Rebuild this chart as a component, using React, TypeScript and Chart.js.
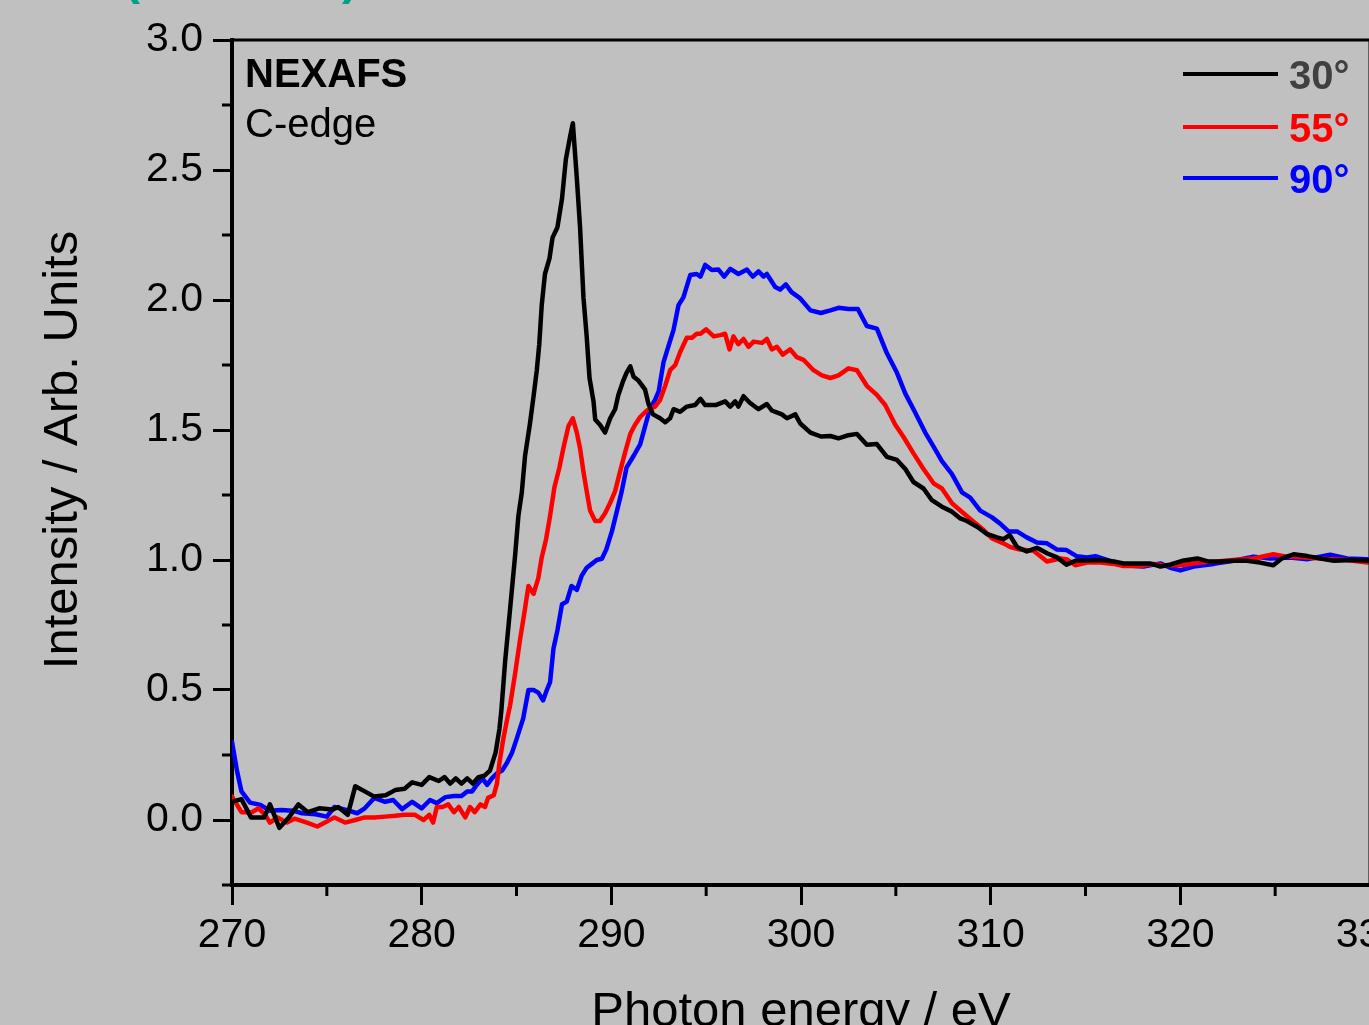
import React, { useEffect, useRef } from "react";
import { Chart, registerables } from "chart.js";

Chart.register(...registerables);

// ---------- data ----------
const energy30 = [270.0,270.5,271.0,271.7,272.0,272.5,273.0,273.5,274.0,274.6,275.3,275.6,276.1,276.5,277.0,277.5,278.1,278.6,279.1,279.5,280.0,280.4,280.9,281.2,281.5,281.8,282.1,282.4,282.7,283.0,283.3,283.6,283.9,284.1,284.2,284.4,284.66,284.93,285.1,285.28,285.45,285.7,285.9,286.07,286.2,286.33,286.5,286.74,286.9,287.16,287.4,287.6,287.83,287.97,288.18,288.35,288.53,288.7,288.85,289.06,289.15,289.4,289.67,289.94,290.2,290.37,290.63,290.8,291.0,291.17,291.43,291.78,291.96,292.2,292.57,292.84,293.1,293.28,293.63,293.98,294.42,294.7,294.95,295.5,296.0,296.27,296.53,296.7,296.97,297.3,297.76,298.2,298.46,298.99,299.26,299.7,299.96,300.5,301.05,301.55,301.98,302.5,302.95,303.47,304.0,304.53,305.06,305.5,305.93,306.46,306.9,307.43,307.96,308.4,308.75,309.28,309.8,310.33,310.68,311.0,311.39,311.9,312.44,312.97,313.5,314.0,314.5,315.1,315.8,316.5,317.0,317.7,318.4,318.95,319.5,320.1,320.9,321.5,322.1,322.8,323.5,324.2,324.9,325.35,325.97,326.7,327.4,328.1,329.0,329.9];
const intensity30 = [0.07,0.08,0.01,0.01,0.06,-0.03,0.01,0.06,0.03,0.045,0.04,0.05,0.02,0.13,0.11,0.09,0.095,0.115,0.12,0.145,0.135,0.165,0.15,0.165,0.14,0.16,0.14,0.16,0.14,0.165,0.17,0.19,0.26,0.35,0.42,0.61,0.81,1.02,1.17,1.26,1.40,1.52,1.63,1.73,1.83,1.98,2.10,2.16,2.24,2.28,2.39,2.54,2.63,2.68,2.47,2.28,2.01,1.86,1.70,1.61,1.54,1.52,1.49,1.545,1.58,1.635,1.69,1.72,1.745,1.705,1.69,1.655,1.60,1.56,1.545,1.53,1.545,1.58,1.57,1.59,1.596,1.62,1.596,1.596,1.61,1.59,1.61,1.59,1.63,1.605,1.58,1.60,1.575,1.56,1.545,1.56,1.525,1.49,1.475,1.477,1.468,1.48,1.485,1.443,1.446,1.397,1.385,1.35,1.30,1.275,1.23,1.205,1.186,1.16,1.15,1.128,1.10,1.087,1.08,1.096,1.05,1.033,1.047,1.026,1.01,0.982,0.998,0.998,1.0,0.994,0.987,0.987,0.987,0.975,0.983,0.997,1.006,0.994,0.994,0.997,0.997,0.99,0.98,1.006,1.022,1.015,1.006,0.997,1.0,0.997];

const energy55 = [270.0,270.5,271.05,271.4,271.75,272.0,272.4,272.9,273.3,273.95,274.5,274.9,275.4,275.96,276.5,277.0,277.5,278.07,278.6,279.1,279.65,280.1,280.4,280.6,280.8,281.1,281.4,281.7,281.96,282.3,282.55,282.8,283.1,283.34,283.5,283.8,283.97,284.1,284.3,284.5,284.66,284.93,285.2,285.4,285.63,285.9,286.15,286.33,286.56,286.77,287.0,287.26,287.47,287.74,287.97,288.18,288.35,288.53,288.7,288.88,289.15,289.4,289.67,289.94,290.2,290.46,290.73,291.0,291.25,291.52,291.87,292.3,292.57,292.84,293.1,293.37,293.63,293.98,294.25,294.5,294.7,295.0,295.4,295.74,296.0,296.23,296.44,296.7,296.97,297.23,297.5,297.94,298.2,298.46,298.73,299.04,299.43,299.78,300.13,300.66,301.1,301.55,301.98,302.5,302.95,303.47,304.0,304.44,304.97,305.4,305.93,306.46,306.99,307.43,307.96,308.57,309.1,309.63,310.07,310.68,311.03,311.55,312.26,312.97,313.67,314.0,314.46,315.08,315.78,316.48,317.0,317.9,318.6,319.1,320.0,321.05,321.93,322.8,323.86,324.9,325.6,326.68,327.9,328.8,329.85];
const intensity55 = [0.09,0.03,0.03,0.045,0.02,-0.01,0.01,-0.01,0.005,-0.01,-0.025,-0.01,0.01,-0.01,0.0,0.01,0.01,0.013,0.016,0.02,0.02,0.0,0.02,-0.01,0.05,0.05,0.06,0.03,0.05,0.01,0.05,0.03,0.06,0.05,0.085,0.095,0.14,0.22,0.31,0.385,0.44,0.565,0.70,0.79,0.90,0.87,0.93,1.01,1.08,1.17,1.28,1.355,1.43,1.515,1.545,1.49,1.43,1.34,1.265,1.19,1.15,1.15,1.18,1.22,1.265,1.34,1.415,1.485,1.52,1.55,1.575,1.59,1.615,1.67,1.73,1.75,1.80,1.855,1.855,1.87,1.87,1.887,1.86,1.865,1.87,1.81,1.86,1.83,1.85,1.82,1.84,1.835,1.85,1.81,1.82,1.79,1.81,1.78,1.77,1.73,1.71,1.70,1.71,1.737,1.73,1.67,1.635,1.596,1.52,1.474,1.41,1.35,1.295,1.275,1.218,1.18,1.147,1.115,1.083,1.064,1.05,1.04,1.036,0.994,1.006,1.003,0.98,0.99,0.99,0.985,0.977,0.977,0.985,0.98,0.98,0.99,0.994,1.0,1.006,1.022,1.013,1.01,1.003,1.0,0.99];

const energy90 = [270.0,270.26,270.5,270.95,271.5,272.0,272.6,273.2,273.7,274.4,275.0,275.4,276.07,276.6,277.0,277.5,278.07,278.5,278.97,279.5,280.0,280.44,280.8,281.25,281.7,282.1,282.4,282.66,282.9,283.2,283.45,283.7,283.98,284.24,284.5,284.77,285.0,285.35,285.63,285.9,286.15,286.4,286.6,286.77,286.95,287.16,287.4,287.65,287.9,288.18,288.44,288.7,288.97,289.23,289.5,289.73,290.03,290.3,290.55,290.8,291.17,291.52,291.8,292.05,292.3,292.5,292.75,293.0,293.28,293.54,293.8,294.16,294.5,294.7,294.95,295.3,295.65,295.95,296.27,296.7,297.15,297.46,297.76,298.03,298.2,298.64,298.9,299.2,299.5,299.96,300.5,301.05,301.55,301.98,302.5,303.0,303.47,304.0,304.53,305.06,305.5,306.0,306.55,306.99,307.43,307.96,308.49,308.92,309.45,310.07,310.5,310.94,311.39,311.9,312.44,312.97,313.5,314.0,314.55,315.08,315.52,316.13,317.0,318.06,318.95,319.47,320.0,320.7,321.76,322.8,323.86,324.74,325.8,326.68,327.9,328.8,329.85];
const intensity90 = [0.30,0.19,0.11,0.067,0.058,0.036,0.038,0.036,0.026,0.022,0.013,0.05,0.038,0.026,0.045,0.085,0.07,0.077,0.042,0.07,0.045,0.077,0.065,0.088,0.092,0.092,0.11,0.11,0.135,0.16,0.135,0.16,0.18,0.19,0.22,0.26,0.31,0.39,0.50,0.50,0.49,0.46,0.50,0.53,0.66,0.73,0.83,0.84,0.90,0.885,0.94,0.97,0.985,1.0,1.005,1.04,1.11,1.19,1.265,1.355,1.40,1.445,1.52,1.585,1.615,1.65,1.76,1.82,1.885,1.98,2.01,2.096,2.10,2.09,2.135,2.115,2.117,2.09,2.12,2.10,2.117,2.09,2.11,2.09,2.10,2.05,2.04,2.06,2.03,2.006,1.96,1.95,1.96,1.97,1.965,1.965,1.90,1.89,1.795,1.72,1.64,1.57,1.49,1.436,1.38,1.33,1.26,1.24,1.19,1.164,1.14,1.11,1.11,1.087,1.067,1.064,1.04,1.038,1.014,1.01,1.015,1.0,0.98,0.975,0.987,0.97,0.96,0.975,0.985,0.997,1.013,1.006,1.01,1.003,1.02,1.006,1.003];

const seriesLabels = ["30°", "55°", "90°"];
const xMajorTicks = [270, 280, 290, 300, 310, 320, 330];
const xMinorTicks = [275, 285, 295, 305, 315, 325];
const yMajorTicks = [0.0, 0.5, 1.0, 1.5, 2.0, 2.5, 3.0];
const yMinorTicks = [-0.25, 0.25, 0.75, 1.25, 1.75, 2.25, 2.75];
const xTitle = "Photon energy / eV";
const yTitle = "Intensity / Arb. Units";
const annotTitle = "NEXAFS";
const annotSub = "C-edge";

// ---------- styling ----------
const W = 1420;
const H = 1060;
const BG = "#c0c0c0";
const FONT = "'Liberation Sans', Arial, Helvetica, sans-serif";
const lineColors = ["#000000", "#ff0000", "#0000ff"];
const labelColors = ["#404040", "#ff0000", "#0000ff"];

const overlayPlugin = {
  id: "overlay",
  afterDraw(chart: any) {
    const ctx = chart.ctx as CanvasRenderingContext2D;
    const xs = chart.scales.x;
    const ys = chart.scales.y;
    const { left, right, top, bottom } = chart.chartArea;
    ctx.save();
    ctx.strokeStyle = "#000";
    const seg = (x1: number, y1: number, x2: number, y2: number) => {
      ctx.beginPath();
      ctx.moveTo(x1, y1);
      ctx.lineTo(x2, y2);
      ctx.stroke();
    };
    // minor ticks
    ctx.lineWidth = 3;
    for (const v of xMinorTicks) {
      const px = xs.getPixelForValue(v);
      seg(px, bottom, px, bottom + 11);
    }
    for (const v of yMinorTicks) {
      const py = ys.getPixelForValue(v);
      seg(left - 10, py, left, py);
    }
    // frame
    ctx.lineWidth = 3;
    seg(left, top, right + 2, top);
    seg(right, top, right, bottom);

    // axis titles
    ctx.fillStyle = "#000";
    ctx.font = `49px ${FONT}`;
    ctx.textAlign = "center";
    ctx.textBaseline = "alphabetic";
    ctx.fillText(xTitle, (left + right) / 2, 1026);
    ctx.save();
    ctx.translate(77, 450);
    ctx.rotate(-Math.PI / 2);
    ctx.fillText(yTitle, 0, 0);
    ctx.restore();

    // annotation
    ctx.textAlign = "left";
    ctx.font = `bold 40px ${FONT}`;
    ctx.fillText(annotTitle, 245, 87);
    ctx.font = `40px ${FONT}`;
    ctx.fillText(annotSub, 245, 137);

    // legend
    const rowsY = [74, 127, 178];
    for (let i = 0; i < seriesLabels.length; i++) {
      ctx.strokeStyle = lineColors[i];
      ctx.lineWidth = 4;
      seg(1183, rowsY[i], 1278, rowsY[i]);
      ctx.fillStyle = labelColors[i];
      ctx.font = `bold 40px ${FONT}`;
      ctx.fillText(seriesLabels[i], 1289, rowsY[i] + 15);
    }

    // cut-off teal brackets at the very top
    ctx.fillStyle = "#00a08a";
    ctx.font = `bold 48px ${FONT}`;
    ctx.fillText("(", 124, -6);
    ctx.fillText(")", 342, -6);
    ctx.restore();
  },
};

export default function App() {
  const ref = useRef<HTMLCanvasElement | null>(null);

  useEffect(() => {
    document.body.style.margin = "0";
    document.body.style.background = BG;
    document.body.style.overflow = "hidden";
    const canvas = ref.current;
    if (!canvas) return;
    Chart.defaults.font.family = FONT;
    const mk = (xs: number[], ys: number[]) => xs.map((x, i) => ({ x, y: ys[i] }));
    const chart = new Chart(canvas, {
      type: "line",
      data: {
        datasets: [
          { label: seriesLabels[0], data: mk(energy30, intensity30), borderColor: lineColors[0] },
          { label: seriesLabels[1], data: mk(energy55, intensity55), borderColor: lineColors[1] },
          { label: seriesLabels[2], data: mk(energy90, intensity90), borderColor: lineColors[2] },
        ].map((d) => ({
          ...d,
          borderWidth: 4.5,
          borderJoinStyle: "round",
          borderCapStyle: "round",
          pointRadius: 0,
          tension: 0,
          fill: false,
        })),
      },
      options: {
        animation: false,
        responsive: false,
        devicePixelRatio: 1,
        layout: { padding: { top: 40, right: 50, left: 0, bottom: 0 } },
        plugins: { legend: { display: false }, tooltip: { enabled: false } },
        scales: {
          x: {
            type: "linear",
            min: 270,
            max: 330,
            afterBuildTicks: (s: any) => {
              s.ticks = xMajorTicks.map((v) => ({ value: v }));
            },
            afterFit: (s: any) => {
              s.height = H - 885;
            },
            ticks: {
              color: "#000",
              font: { size: 41 },
              padding: 6,
              maxRotation: 0,
              autoSkip: false,
              callback: (v: any) => String(v),
            },
            grid: {
              display: true,
              drawOnChartArea: false,
              drawTicks: true,
              tickLength: 20,
              tickWidth: 3,
              tickColor: "#000",
            },
            border: { display: true, color: "#000", width: 4 },
          },
          y: {
            type: "linear",
            min: -0.25,
            max: 3.0,
            afterBuildTicks: (s: any) => {
              s.ticks = yMajorTicks.map((v) => ({ value: v }));
            },
            afterFit: (s: any) => {
              s.width = 232;
            },
            ticks: {
              color: "#000",
              font: { size: 41 },
              padding: 10,
              autoSkip: false,
              callback: (v: any) => Number(v).toFixed(1),
            },
            grid: {
              display: true,
              drawOnChartArea: false,
              drawTicks: true,
              tickLength: 19,
              tickWidth: 3,
              tickColor: "#000",
            },
            border: { display: true, color: "#000", width: 4 },
          },
        },
      },
      plugins: [overlayPlugin],
    } as any);
    return () => chart.destroy();
  }, []);

  return (
    <div style={{ position: "fixed", left: 0, top: 0, width: W, height: H, background: BG }}>
      <canvas ref={ref} width={W} height={H} style={{ display: "block", width: W, height: H }} />
    </div>
  );
}
